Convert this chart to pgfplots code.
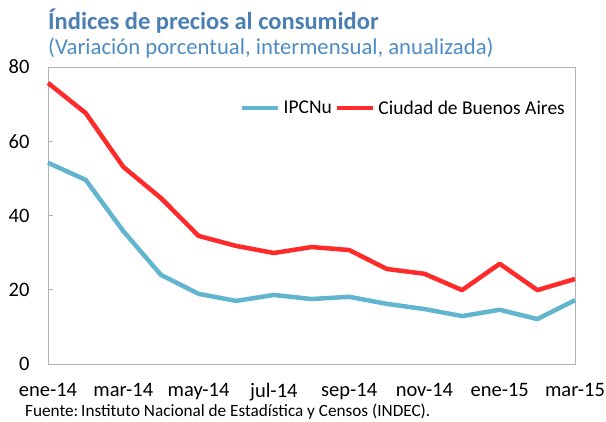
\documentclass[border=0pt]{standalone}
\usepackage{fontspec}
\setmainfont{Carlito}
\usepackage{pgfplots}
\pgfplotsset{compat=1.18}
\definecolor{titleblue}{HTML}{4A7FB3}
\definecolor{subblue}{HTML}{4D8CC4}
\definecolor{ipcblue}{HTML}{62B5CF}
\definecolor{bared}{HTML}{FF2B2B}
\begin{document}
\begin{tikzpicture}[x=1pt,y=1pt]
\path[use as bounding box] (0,0) rectangle (606,421);
\node[anchor=base west,font=\fontsize{24.5}{28}\selectfont\bfseries,text=titleblue,inner sep=0] at (48,391) {Índices de precios al consumidor};
\node[anchor=base west,font=\fontsize{22.7}{26}\selectfont,text=subblue,inner sep=0] at (48,366) {(Variación porcentual, intermensual, anualizada)};
\node[anchor=base west,font=\fontsize{17.2}{20}\selectfont,inner sep=0] at (25,5) {Fuente:\,Instituto Nacional de Estadística y Censos (INDEC).};
\begin{axis}[
  at={(48pt,57pt)}, anchor=south west,
  scale only axis, width=527pt, height=297pt,
  xmin=0, xmax=14, ymin=0, ymax=80,
  xtick={0,2,4,6,8,10,12,14},
  xticklabels={ene-14,mar-14,may-14,jul-14,sep-14,nov-14,ene-15,mar-15},
  ytick={0,20,40,60,80},
  axis line style={draw=gray!60, line width=0.8pt},
  x tick style={draw=none},
  y tick style={draw=gray!60, line width=0.8pt},
  ytick pos=left, tick align=inside,
  xtick pos=bottom,
  major tick length=5pt,
  tick label style={font=\fontsize{20.5}{24}\selectfont, text=black},
  /pgf/number format/assume math mode=true,
  xticklabel style={yshift=-16pt},
  yticklabel style={xshift=-15pt},
  legend columns=2,
  legend style={at={(0.985,0.862)}, anchor=east, draw=none, fill=none,
    font=\fontsize{19.5}{23}\selectfont, column sep=1pt, inner sep=0pt},
  legend image code/.code={\draw[#1,line width=4.5pt] (0pt,0pt) -- (36pt,0pt);},
  clip=false,
]
\addplot[ipcblue, line width=4.5pt, line join=round] coordinates {
(0,54.2) (1,49.6) (2,35.8) (3,24.0) (4,18.9) (5,17.0) (6,18.6) (7,17.5) (8,18.1) (9,16.2) (10,14.8) (11,12.9) (12,14.6) (13,12.1) (14,17.2)};
\addlegendentry{IPCNu}
\addplot[bared, line width=4.5pt, line join=round] coordinates {
(0,75.7) (1,67.6) (2,53.1) (3,44.7) (4,34.5) (5,31.8) (6,29.9) (7,31.5) (8,30.7) (9,25.6) (10,24.3) (11,19.9) (12,27.0) (13,19.9) (14,22.9)};
\addlegendentry{Ciudad de Buenos Aires}
\end{axis}
\end{tikzpicture}
\end{document}
